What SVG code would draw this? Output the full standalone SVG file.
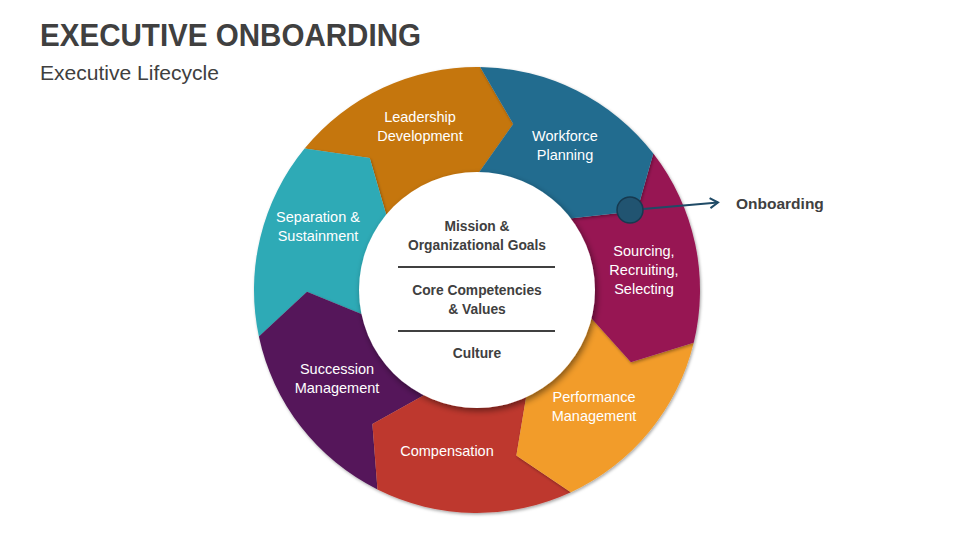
<svg xmlns="http://www.w3.org/2000/svg" width="960" height="540" viewBox="0 0 960 540">
<defs>
<filter id="segShadow" x="-10%" y="-10%" width="120%" height="120%">
<feDropShadow dx="1" dy="1.5" stdDeviation="1.5" flood-color="#000" flood-opacity="0.35"/>
</filter>
<filter id="circShadow" x="-20%" y="-20%" width="140%" height="140%">
<feDropShadow dx="2" dy="3" stdDeviation="3" flood-color="#000" flood-opacity="0.45"/>
</filter>
<marker id="arrowOpen" viewBox="0 0 12 12" refX="10" refY="6" markerWidth="12" markerHeight="12" markerUnits="userSpaceOnUse" orient="auto">
<path d="M2,1 L10,6 L2,11" fill="none" stroke="#1F4A66" stroke-width="2"/>
</marker>
<style>
.seg{filter:url(#segShadow);}
.lbl{font-family:"Liberation Sans",Arial,sans-serif;font-size:14.5px;fill:#ffffff;text-anchor:middle;}
.ctr{font-family:"Liberation Sans",Arial,sans-serif;font-size:13.8px;font-weight:bold;fill:#404040;text-anchor:middle;}
.div{stroke:#404040;stroke-width:2;}
</style>
</defs>
<rect width="960" height="540" fill="#ffffff"/>
<text x="40" y="46" font-family="'Liberation Sans',Arial,sans-serif" font-size="31" font-weight="bold" fill="#404040" textLength="381" lengthAdjust="spacingAndGlyphs">EXECUTIVE ONBOARDING</text>
<text x="40" y="80" font-family="'Liberation Sans',Arial,sans-serif" font-size="20" fill="#404040" textLength="179" lengthAdjust="spacingAndGlyphs">Executive Lifecycle</text>

<g id="leadership">
<path class="seg" fill="#C5760F" d="M304.6,148.6 A223,223 0 0 1 480.1,67 L513.2,123.9 L478.6,173 A117,117 0 0 0 386.5,215.8 L369.7,158.1 Z"/>
<text class="lbl" x="420" y="122">Leadership</text>
<text class="lbl" x="420" y="141">Development</text>
</g>
<g id="separation">
<path class="seg" fill="#2FAAB6" d="M258.9,336.6 A223,223 0 0 1 304.6,148.6 L369.7,158.1 L386.5,215.8 A117,117 0 0 0 362.6,314.4 L307,291.7 Z"/>
<text class="lbl" x="318" y="222">Separation &amp;</text>
<text class="lbl" x="318" y="241">Sustainment</text>
</g>
<g id="succession">
<path class="seg" fill="#55185A" d="M377.5,489.5 A223,223 0 0 1 258.9,336.6 L307,291.7 L362.6,314.4 A117,117 0 0 0 424.8,394.7 L372.4,424 Z"/>
<text class="lbl" x="337" y="374">Succession</text>
<text class="lbl" x="337" y="393">Management</text>
</g>
<g id="compensation">
<path class="seg" fill="#BE392F" d="M570.9,492.3 A223,223 0 0 1 377.5,489.5 L372.4,424 L424.8,394.7 A117,117 0 0 0 526.3,396.1 L516.4,455.4 Z"/>
<text class="lbl" x="447" y="456">Compensation</text>
</g>
<g id="performance">
<path class="seg" fill="#F29C29" d="M693.7,342.7 A223,223 0 0 1 570.9,492.3 L516.4,455.4 L526.3,396.1 A117,117 0 0 0 590.7,317.6 L630.9,362.3 Z"/>
<text class="lbl" x="594" y="402">Performance</text>
<text class="lbl" x="594" y="421">Management</text>
</g>
<g id="sourcing">
<path class="seg" fill="#971552" d="M653.3,153.5 A223,223 0 0 1 693.7,342.7 L630.9,362.3 L590.7,317.6 A117,117 0 0 0 569.5,218.4 L637,211 Z"/>
<text class="lbl" x="644" y="256">Sourcing,</text>
<text class="lbl" x="644" y="275">Recruiting,</text>
<text class="lbl" x="644" y="294">Selecting</text>
</g>
<g id="workforce">
<path class="seg" fill="#246C8F" d="M480.1,67 A223,223 0 0 1 653.3,153.5 L637,211 L569.5,218.4 A117,117 0 0 0 478.6,173 L513.2,123.9 Z"/>
<text class="lbl" x="565" y="141">Workforce</text>
<text class="lbl" x="565" y="160">Planning</text>
</g>

<g id="core">
<circle cx="477" cy="290" r="118" fill="#ffffff" filter="url(#circShadow)"/>
<text class="ctr" x="477" y="231">Mission &amp;</text>
<text class="ctr" x="477" y="250">Organizational Goals</text>
<line class="div" x1="398" y1="267" x2="555" y2="267"/>
<text class="ctr" x="477" y="295">Core Competencies</text>
<text class="ctr" x="477" y="314">&amp; Values</text>
<line class="div" x1="398" y1="331" x2="555" y2="331"/>
<text class="ctr" x="477" y="358">Culture</text>
</g>

<g id="connectors">
<line x1="643" y1="209" x2="718" y2="202.5" stroke="#1F4A66" stroke-width="2" marker-end="url(#arrowOpen)"/>
</g>
<g id="onboarding-node">
<circle cx="630" cy="210" r="13" fill="#215471" stroke="#163A50" stroke-width="1.5"/>
</g>
<g id="onboarding">
<text x="736" y="209" font-family="'Liberation Sans',Arial,sans-serif" font-size="15.5" font-weight="bold" fill="#404040">Onboarding</text>
</g>
</svg>
